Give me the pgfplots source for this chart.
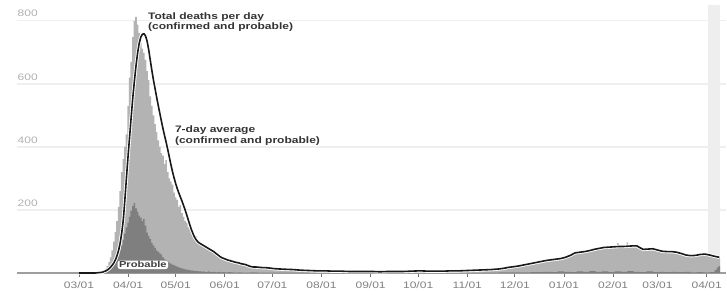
\documentclass[border=0pt]{standalone}
\usepackage{pgfplots}
\pgfplotsset{compat=1.18}
\usepackage{fontspec}
\setmainfont{Liberation Sans}[FakeStretch=1.28]
\definecolor{lightbar}{HTML}{B3B3B3}
\definecolor{darkbar}{HTML}{7F7F7F}
\definecolor{gridc}{HTML}{EFEFEF}
\definecolor{bandc}{HTML}{EEEEEE}
\definecolor{ytc}{HTML}{B0B0B0}
\definecolor{xtc}{HTML}{808080}
\definecolor{annc}{HTML}{333333}
\begin{document}
\begin{tikzpicture}
\path (0,0) rectangle (727bp,295bp);
\begin{axis}[
  at={(17bp,21.7bp)}, anchor=south west,
  scale only axis, width=710bp, height=268.3bp,
  xmin=-39.1, xmax=408.4, ymin=0, ymax=850,
  clip=false,
  axis x line*=bottom, axis y line*=left,
  x axis line style={-, draw=black!38, line width=1.3bp},
  y axis line style={draw=none},
  xtick={0,31,61,92,122,153,184,214,245,275,306,337,365,396},
  xticklabels={03/01,04/01,05/01,06/01,07/01,08/01,09/01,10/01,11/01,12/01,01/01,02/01,03/01,04/01},
  xtick align=outside,
  major tick length=4bp,
  x tick style={draw=black!55, line width=0.8bp},
  ytick={200,400,600,800},
  y tick style={draw=none},
  ymajorgrids,
  grid style={draw=gridc, line width=1.4bp},
  /pgf/number format/assume math mode=true,
  xticklabel style={font=\fontsize{9.4bp}{10bp}\selectfont, text=xtc, yshift=-1bp},
  yticklabel style={font=\fontsize{9.4bp}{10bp}\selectfont, text=ytc, anchor=south west, inner sep=0pt, xshift=0.5bp, yshift=3.5bp},
]
% shaded band (incomplete data)
\addplot[fill=bandc, draw=none] coordinates {(397,850)(404.6,850)} \closedcycle;
% total deaths per day
\addplot[fill=lightbar, draw=none, const plot mark mid] coordinates {
(11.5,0)(12,1)(13,2)(14,4)(15,6)(16,9)(17,14)(18,22)(19,35)(20,50)(21,72)(22,100)(23,130)(24,165)(25,210)(26,260)(27,320)(28,362)(29,400)(30,440)(31,530)(32,620)(33,670)(34,748)(35,800)(36,812)(37,788)(38,762)(39,730)(40,712)(41,698)(42,676)(43,640)(44,612)(45,560)(46,530)(47,500)(48,472)(49,447)(50,421)(51,400)(52,380)(53,372)(54,345)(55,358)(56,320)(57,300)(58,290)(59,280)(60,255)(61,240)(62,232)(63,210)(64,215)(65,190)(66,178)(67,165)(68,160)(69,145)(70,140)(71,128)(72,125)(73,118)(74,116)(75,105)(76,100)(77,95)(78,92)(79,86)(80,84)(81,78)(82,75)(83,72)(84,68)(85,65)(86,62)(87,60)(88,58)(89,54)(90,52)(91,48)(92,47)(93,45)(94,44)(95,42)(96,40)(97,42)(98,36)(99,35)(100,33)(101,32)(102,30)(103,29)(104,28)(105,26)(106,27)(107,23)(108,22)(109,21)(110,20)(111,19)(112,17)(113,20)(114,16)(115,18)(116,15)(117,17)(118,16)(119,14)(120,15)(121,13)(122,14)(123,12)(124,13)(125,11)(126,12)(127,10)(128,12)(129,11)(130,9)(131,11)(132,10)(133,9)(134,10)(135,8)
(136,11)(137,8)(138,10)(139,9)(140,7)(141,10)(142,8)(143,7)(144,9)(145,6)
(146,8)(147,7)(148,5)(149,9)(150,6)(151,8)(152,7)(153,6)(154,8)(155,5)
(156,7)(157,6)(158,8)(159,5)(160,6)(161,7)(162,5)(163,8)(164,6)(165,5)
(166,6)(167,4)(168,7)(169,5)(170,6)(171,4)(172,6)(173,5)(174,3)(175,6)
(176,5)(177,4)(178,6)(179,5)(180,3)(181,6)(182,4)(183,5)(184,6)(185,4)
(186,5)(187,3)(188,5)(189,4)(190,6)(191,3)(192,4)(193,5)(194,4)(195,6)
(196,5)(197,4)(198,6)(199,3)(200,5)(201,6)(202,4)(203,5)(204,7)(205,4)
(206,6)(207,5)(208,7)(209,4)(210,6)(211,8)(212,5)(213,7)(214,6)(215,8)
(216,7)(217,5)(218,8)(219,6)(220,5)(221,7)(222,6)(223,4)(224,7)(225,6)
(226,5)(227,7)(228,6)(229,8)(230,5)(231,6)(232,7)(233,5)(234,8)(235,7)
(236,6)(237,8)(238,7)(239,5)(240,9)(241,7)(242,8)(243,6)(244,9)(245,8)
(246,9)(247,7)(248,10)(249,8)(250,9)(251,11)(252,8)(253,10)(254,9)(255,11)
(256,10)(257,12)(258,9)(259,11)(260,13)(261,10)(262,12)(263,11)(264,14)(265,13)
(266,15)(267,13)(268,16)(269,17)(270,15)(271,19)(272,18)(273,20)(274,19)(275,22)
(276,21)(277,23)(278,22)(279,25)(280,24)(281,27)(282,26)(283,28)(284,27)(285,30)
(286,29)(287,31)(288,33)(289,32)(290,35)(291,34)(292,37)(293,36)(294,39)(295,38)
(296,41)(297,40)(298,43)(299,42)(300,45)(301,44)(302,42)(303,47)(304,45)(305,48)
(306,50)(307,47)(308,55)(309,52)(310,58)(311,60)(312,63)(313,65)(314,62)(315,67)
(316,64)(317,70)(318,66)(319,69)(320,72)(321,68)(322,74)(323,71)(324,76)(325,73)
(326,78)(327,74)(328,80)(329,77)(330,82)(331,79)(332,85)(333,80)(334,83)(335,81)
(336,86)(337,82)(338,88)(339,84)(340,95)(341,83)(342,86)(343,82)(344,88)(345,85)
(346,97)(347,84)(348,88)(349,83)(350,90)(351,86)(352,84)(353,78)(354,76)(355,73)
(356,77)(357,74)(358,80)(359,75)(360,78)(361,72)(362,76)(363,70)(364,74)(365,71)
(366,68)(367,72)(368,66)(369,70)(370,67)(371,71)(372,65)(373,69)(374,67)(375,70)
(376,64)(377,68)(378,62)(379,65)(380,60)(381,63)(382,57)(383,58)(384,54)(385,56)
(386,53)(387,57)(388,55)(389,59)(390,56)(391,61)(392,58)(393,62)(394,59)(395,63)
(396,58)(397,60)(398,55)(399,57)(400,52)(401,54)(402,50)(403,48)(404,47)(404.5,47)
} \closedcycle;
% probable deaths per day
\addplot[fill=darkbar, draw=none, const plot mark mid] coordinates {
(14.5,0)(15,1)(16,2)(17,3)(18,5)(19,8)(20,12)(21,18)(22,25)(23,35)(24,45)(25,58)(26,72)(27,88)(28,105)(29,125)(30,145)(31,160)(32,178)(33,198)(34,212)(35,222)(36,205)(37,195)(38,182)(39,176)(40,165)(41,172)(42,150)(43,128)(44,118)(45,108)(46,96)(47,88)(48,80)(49,72)(50,68)(51,62)(52,58)(53,50)(54,44)(55,40)(56,36)(57,32)(58,30)(59,27)(60,25)(61,22)(62,20)(63,18)(64,16)(65,15)(66,13)(67,12)(68,11)(69,10)(70,9)(71,8)(72,8)(73,7)(74,6)(75,6)(76,5)(77,5)(78,4)(79,5)(80,3)(81,4)(82,5)(83,3)(84,4)(85,3)(86,4)(87,2)(88,3)(89,4)(90,2)(91,3)(93,2)(95,3)(97,2)(99,1)(101,2)(105,1)(110,2)(115,1)(125,1)(140,1)(150,0.5)(250,0.5)(260,1)(270,2)(280,2)(290,3)(296,4)(300,3)(304,5)(308,4)(312,3)(316,5)(320,4)(324,6)(328,4)(332,5)(336,3)(340,5)(344,4)(348,6)(352,4)(356,3)(360,5)(364,3)(368,4)(372,3)(376,4)(380,3)(384,4)(388,2)(392,3)(396,2)(400,3)(402,10)(403,18)(404,22)(404.5,22)
} \closedcycle;
% 7-day average: white halo, then line
\addplot[white, line width=3.4bp, line join=round] coordinates {
(0,0)(10,0)(11,0.5)(12,1)(13,1.5)(14,2)(15,3)(16,5)(17,7)(18,10)(19,14)(20,19)(21,25)(22,32)(23,42)(24,55)(25,72)(26,95)(27,128)(28,170)(29,235)(30,305)(31,372)(32,435)(33,498)(34,558)(35,610)(36,658)(37,698)(38,728)(39,748)(40,757)(41,759)(42,752)(43,735)(44,708)(45,675)(46,642)(47,612)(48,585)(49,558)(50,532)(51,507)(52,482)(53,458)(54,436)(55,415)(56,392)(57,368)(58,344)(59,322)(60,302)(61,284)(62,268)(63,254)(64,241)(65,228)(66,214)(67,200)(68,184)(69,168)(70,152)(71,137)(72,124)(73,113)(74,105)(75,99)(76,95)(77,92)(78,89)(79,86)(80,83)(81,80)(82,77)(83,74)(84,71)(85,68)(86,64)(87,60)(88,56)(89,52)(90,49)(91,47)(92,45)(93,43)(94,41)(95,40)(96,38)(97,37)(98,35)(99,34)(100,33)(101,32)(102,30)(103,29)(104,28)(105,27)(106,25)(107,23)(108,21)(109,20)(110,19)(112,19)(114,18)(116,17)(118,17)(120,16)(123,14)(126,13)(130,12)(135,11)(140,9)(145,8)(150,7)(155,7)(160,6)(165,6)(170,5)(175,5)(180,5)(185,5)(190,4)(195,5)(200,5)(205,5)(210,6)(215,7)(220,6)(225,6)(230,6)(235,7)(240,7)(245,8)(250,9)(255,10)(260,11)(265,13)(268,15)(271,18)(274,20)(277,22)(280,25)(283,28)(286,31)(289,34)(292,37)(295,40)(298,42)(301,44)(304,46)(307,50)(310,56)(313,64)(316,66)(319,68)(322,71)(325,75)(328,78)(331,81)(334,82)(337,83)(340,84)(343,84)(346,85)(349,86)(352,86)(354,80)(356,75)(359,76)(362,77)(365,73)(368,69)(371,68)(374,68)(377,66)(380,62)(383,57)(386,55)(389,56)(392,59)(395,60)(398,57)(401,53)(404,50)
};
\addplot[color=black!90, line width=1.6bp, line join=round] coordinates {
(0,0)(10,0)(11,0.5)(12,1)(13,1.5)(14,2)(15,3)(16,5)(17,7)(18,10)(19,14)(20,19)(21,25)(22,32)(23,42)(24,55)(25,72)(26,95)(27,128)(28,170)(29,235)(30,305)(31,372)(32,435)(33,498)(34,558)(35,610)(36,658)(37,698)(38,728)(39,748)(40,757)(41,759)(42,752)(43,735)(44,708)(45,675)(46,642)(47,612)(48,585)(49,558)(50,532)(51,507)(52,482)(53,458)(54,436)(55,415)(56,392)(57,368)(58,344)(59,322)(60,302)(61,284)(62,268)(63,254)(64,241)(65,228)(66,214)(67,200)(68,184)(69,168)(70,152)(71,137)(72,124)(73,113)(74,105)(75,99)(76,95)(77,92)(78,89)(79,86)(80,83)(81,80)(82,77)(83,74)(84,71)(85,68)(86,64)(87,60)(88,56)(89,52)(90,49)(91,47)(92,45)(93,43)(94,41)(95,40)(96,38)(97,37)(98,35)(99,34)(100,33)(101,32)(102,30)(103,29)(104,28)(105,27)(106,25)(107,23)(108,21)(109,20)(110,19)(112,19)(114,18)(116,17)(118,17)(120,16)(123,14)(126,13)(130,12)(135,11)(140,9)(145,8)(150,7)(155,7)(160,6)(165,6)(170,5)(175,5)(180,5)(185,5)(190,4)(195,5)(200,5)(205,5)(210,6)(215,7)(220,6)(225,6)(230,6)(235,7)(240,7)(245,8)(250,9)(255,10)(260,11)(265,13)(268,15)(271,18)(274,20)(277,22)(280,25)(283,28)(286,31)(289,34)(292,37)(295,40)(298,42)(301,44)(304,46)(307,50)(310,56)(313,64)(316,66)(319,68)(322,71)(325,75)(328,78)(331,81)(334,82)(337,83)(340,84)(343,84)(346,85)(349,86)(352,86)(354,80)(356,75)(359,76)(362,77)(365,73)(368,69)(371,68)(374,68)(377,66)(380,62)(383,57)(386,55)(389,56)(392,59)(395,60)(398,57)(401,53)(404,50)
};
\node[anchor=north west, inner sep=0pt, align=left, text=annc, font=\fontsize{9.4bp}{10.3bp}\selectfont\bfseries] at (axis cs:43.5,826) {Total deaths per day\\(confirmed and probable)};
\node[anchor=north west, inner sep=0pt, align=left, text=annc, font=\fontsize{9.4bp}{10.6bp}\selectfont\bfseries] at (axis cs:60.5,467) {7-day average\\(confirmed and probable)};
\node[fill=white, rounded corners=2.5bp, inner xsep=1.5bp, inner ysep=1bp, text=black!75, font=\fontsize{8.7bp}{9bp}\selectfont\bfseries] at (axis cs:40.3,26) {Probable};
\end{axis}
\end{tikzpicture}
\end{document}
